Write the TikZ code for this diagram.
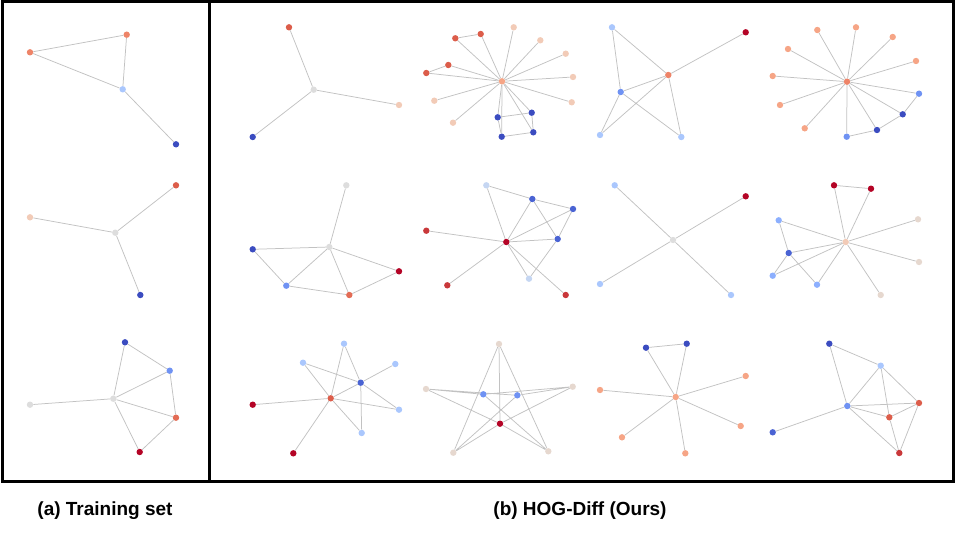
\documentclass[tikz,border=0pt]{standalone}
\usepackage{fontspec}
\setmainfont{Liberation Sans}
\pgfdeclarelayer{bg}
\pgfsetlayers{bg,main}
\definecolor{cDark}{HTML}{3B4CC0}
\definecolor{cBlueB}{HTML}{4A63D3}
\definecolor{cMid}{HTML}{6F92F3}
\definecolor{cMidB}{HTML}{8CAFFE}
\definecolor{cLight}{HTML}{AAC7FD}
\definecolor{cPale}{HTML}{C5D6F2}
\definecolor{cGrey}{HTML}{DDDDDD}
\definecolor{cPaleP}{HTML}{E6D8CF}
\definecolor{cPeach}{HTML}{F2CBB7}
\definecolor{cSalmon}{HTML}{F6A586}
\definecolor{cOrange}{HTML}{EE8468}
\definecolor{cOrangeB}{HTML}{E36C55}
\definecolor{cRedO}{HTML}{DC5D4A}
\definecolor{cRed}{HTML}{C9383A}
\definecolor{cDRed}{HTML}{B40426}
\definecolor{cEdge}{HTML}{C2C2C2}
\tikzset{
  v/.style={circle,inner sep=0pt,minimum size=6.4pt,draw=none},
  e/.style={draw=cEdge,line width=0.75pt},
  frame/.style={draw=black,line width=3pt},
  captxt/.style={font=\fontsize{19}{22}\selectfont\bfseries,anchor=base,inner sep=0pt}
}
\begin{document}
\begin{tikzpicture}[x=1pt,y=-1pt]
\useasboundingbox (0,0) rectangle (957,532);
\draw[frame] (2,1.5) rectangle (209.5,481.5);
\draw[frame] (209.5,1.5) rectangle (953.5,481.5);
% ---------- left panel
\node[v,fill=cOrange] (a1) at (30,52.3) {};
\node[v,fill=cOrange] (a2) at (126.7,34.7) {};
\node[v,fill=cLight] (a3) at (122.7,89.3) {};
\node[v,fill=cDark] (a4) at (176,144.3) {};
\node[v,fill=cRedO] (b1) at (176,185.3) {};
\node[v,fill=cPeach] (b2) at (30,217.3) {};
\node[v,fill=cGrey] (b3) at (115.3,232.7) {};
\node[v,fill=cDark] (b4) at (140.3,295) {};
\node[v,fill=cDark] (c1) at (125,342.3) {};
\node[v,fill=cMid] (c2) at (169.7,370.7) {};
\node[v,fill=cGrey] (c3) at (113.3,398.7) {};
\node[v,fill=cGrey] (c4) at (30,404.7) {};
\node[v,fill=cOrangeB] (c5) at (176,417.7) {};
\node[v,fill=cDRed] (c6) at (139.7,452) {};
% ---------- R1C1
\node[v,fill=cRedO] (d1) at (289,27.3) {};
\node[v,fill=cGrey] (d2) at (313.7,89.7) {};
\node[v,fill=cPeach] (d3) at (399,105) {};
\node[v,fill=cDark] (d4) at (252.7,137) {};
% ---------- R1C2
\node[v,fill=cSalmon] (e0) at (502,81.3) {};
\node[v,fill=cRedO] (e1) at (455.3,38.3) {};
\node[v,fill=cRedO] (e2) at (480.7,34) {};
\node[v,fill=cPeach] (e3) at (513.7,27.3) {};
\node[v,fill=cPeach] (e4) at (540.3,40.3) {};
\node[v,fill=cPeach] (e5) at (565.7,53.7) {};
\node[v,fill=cPeach] (e6) at (573,77) {};
\node[v,fill=cPeach] (e7) at (571.7,102.3) {};
\node[v,fill=cRedO] (e8) at (448.3,65) {};
\node[v,fill=cRedO] (e9) at (426.3,73) {};
\node[v,fill=cPeach] (e10) at (434.3,100.7) {};
\node[v,fill=cPeach] (e11) at (453,122.7) {};
\node[v,fill=cDark] (e12) at (497.7,117.3) {};
\node[v,fill=cDark] (e13) at (531.7,112.7) {};
\node[v,fill=cDark] (e14) at (501.7,136.7) {};
\node[v,fill=cDark] (e15) at (533.3,132.3) {};
% ---------- R1C3
\node[v,fill=cLight] (f1) at (612,27.3) {};
\node[v,fill=cDRed] (f2) at (745.7,32.3) {};
\node[v,fill=cOrange] (f3) at (668.3,75) {};
\node[v,fill=cMid] (f4) at (620.7,92) {};
\node[v,fill=cLight] (f5) at (600,135) {};
\node[v,fill=cLight] (f6) at (681.3,137) {};
% ---------- R1C4
\node[v,fill=cOrange] (g0) at (847,81.7) {};
\node[v,fill=cSalmon] (g1) at (817.3,30) {};
\node[v,fill=cSalmon] (g2) at (856,27.3) {};
\node[v,fill=cSalmon] (g3) at (892.7,37) {};
\node[v,fill=cSalmon] (g4) at (916,61) {};
\node[v,fill=cSalmon] (g5) at (788,49) {};
\node[v,fill=cSalmon] (g6) at (772.7,76) {};
\node[v,fill=cSalmon] (g7) at (780,105) {};
\node[v,fill=cSalmon] (g8) at (804.7,128.3) {};
\node[v,fill=cMid] (g9) at (919,93.7) {};
\node[v,fill=cDark] (g10) at (902.7,114.3) {};
\node[v,fill=cDark] (g11) at (877,130) {};
\node[v,fill=cMid] (g12) at (846.7,136.7) {};
% ---------- R2C1
\node[v,fill=cGrey] (h1) at (346.3,185.3) {};
\node[v,fill=cGrey] (h2) at (329.3,247) {};
\node[v,fill=cDark] (h3) at (252.7,249.3) {};
\node[v,fill=cMid] (h4) at (286.3,285.7) {};
\node[v,fill=cOrangeB] (h5) at (349.3,295) {};
\node[v,fill=cDRed] (h6) at (399,271.3) {};
% ---------- R2C2
\node[v,fill=cPale] (i1) at (486.3,185.3) {};
\node[v,fill=cBlueB] (i2) at (532.3,199) {};
\node[v,fill=cBlueB] (i3) at (573,209) {};
\node[v,fill=cRed] (i4) at (426.3,230.7) {};
\node[v,fill=cDRed] (i5) at (506.3,242) {};
\node[v,fill=cBlueB] (i6) at (557.7,239) {};
\node[v,fill=cRed] (i7) at (447.3,285.3) {};
\node[v,fill=cPale] (i8) at (529,278.7) {};
\node[v,fill=cRed] (i9) at (565.7,295) {};
% ---------- R2C3
\node[v,fill=cLight] (j1) at (614.7,185.3) {};
\node[v,fill=cDRed] (j2) at (745.7,196.3) {};
\node[v,fill=cGrey] (j3) at (673,240) {};
\node[v,fill=cLight] (j4) at (600,284) {};
\node[v,fill=cLight] (j5) at (731,295) {};
% ---------- R2C4
\node[v,fill=cDRed] (k1) at (834,185.3) {};
\node[v,fill=cDRed] (k2) at (871,188.7) {};
\node[v,fill=cMidB] (k3) at (778.7,220.3) {};
\node[v,fill=cPeach] (k4) at (845.7,242) {};
\node[v,fill=cPaleP] (k5) at (918,219.3) {};
\node[v,fill=cBlueB] (k6) at (788.7,253) {};
\node[v,fill=cPaleP] (k7) at (919,262) {};
\node[v,fill=cMidB] (k8) at (772.7,275.7) {};
\node[v,fill=cMidB] (k9) at (817,284.7) {};
\node[v,fill=cPaleP] (k10) at (880.7,295) {};
% ---------- R3C1
\node[v,fill=cLight] (l1) at (344,343.7) {};
\node[v,fill=cLight] (l2) at (303,362.7) {};
\node[v,fill=cLight] (l3) at (395.3,364) {};
\node[v,fill=cBlueB] (l4) at (360.7,382.7) {};
\node[v,fill=cRedO] (l5) at (330.7,398.3) {};
\node[v,fill=cDRed] (l6) at (252.7,404.7) {};
\node[v,fill=cLight] (l7) at (399,409.7) {};
\node[v,fill=cLight] (l8) at (361.7,433) {};
\node[v,fill=cDRed] (l9) at (293.3,453.3) {};
% ---------- R3C2
\node[v,fill=cPaleP] (m1) at (499,344) {};
\node[v,fill=cPaleP] (m2) at (426,389) {};
\node[v,fill=cPaleP] (m3) at (572.7,386.7) {};
\node[v,fill=cMid] (m4) at (483.3,394.3) {};
\node[v,fill=cMid] (m5) at (517.3,395.3) {};
\node[v,fill=cDRed] (m6) at (500,423.7) {};
\node[v,fill=cPaleP] (m7) at (453.3,452.7) {};
\node[v,fill=cPaleP] (m8) at (548.3,451.3) {};
% ---------- R3C3
\node[v,fill=cDark] (n1) at (646,347.7) {};
\node[v,fill=cDark] (n2) at (686.7,343.7) {};
\node[v,fill=cSalmon] (n3) at (745.7,376) {};
\node[v,fill=cSalmon] (n4) at (600,390) {};
\node[v,fill=cSalmon] (n5) at (675.7,397) {};
\node[v,fill=cSalmon] (n6) at (740.7,426) {};
\node[v,fill=cSalmon] (n7) at (622,437.3) {};
\node[v,fill=cSalmon] (n8) at (685.3,453.3) {};
% ---------- R3C4
\node[v,fill=cDark] (o1) at (829.3,343.7) {};
\node[v,fill=cLight] (o2) at (880.7,365.7) {};
\node[v,fill=cMid] (o3) at (847.3,406) {};
\node[v,fill=cRedO] (o4) at (919,403) {};
\node[v,fill=cRedO] (o5) at (889.3,417.3) {};
\node[v,fill=cBlueB] (o6) at (772.7,432.3) {};
\node[v,fill=cRed] (o7) at (899.3,453) {};
% ---------- edges
\begin{pgfonlayer}{bg}
\draw[e] (a1)--(a2) (a1)--(a3) (a2)--(a3) (a3)--(a4);
\draw[e] (b3)--(b1) (b3)--(b2) (b3)--(b4);
\draw[e] (c1)--(c2) (c1)--(c3) (c3)--(c2) (c3)--(c4) (c3)--(c5) (c3)--(c6) (c2)--(c5) (c5)--(c6);
\draw[e] (d2)--(d1) (d2)--(d3) (d2)--(d4);
\foreach \k in {1,...,15} {\draw[e] (e0)--(e\k);}
\draw[e] (e1)--(e2) (e8)--(e9) (e12)--(e13) (e14)--(e15) (e13)--(e15) (e12)--(e14);
\draw[e] (f1)--(f3) (f1)--(f4) (f3)--(f2) (f3)--(f4) (f3)--(f5) (f3)--(f6) (f4)--(f5) (f4)--(f6);
\foreach \k in {1,...,12} {\draw[e] (g0)--(g\k);}
\draw[e] (g9)--(g10) (g10)--(g11) (g11)--(g12);
\draw[e] (h1)--(h2) (h2)--(h3) (h3)--(h4) (h4)--(h2) (h4)--(h5) (h2)--(h5) (h2)--(h6) (h5)--(h6);
\draw[e] (i1)--(i2) (i2)--(i3) (i1)--(i5) (i2)--(i5) (i2)--(i6) (i3)--(i5) (i3)--(i6) (i5)--(i6) (i4)--(i5) (i5)--(i7) (i5)--(i8) (i5)--(i9) (i6)--(i8);
\foreach \k in {1,2,4,5} {\draw[e] (j3)--(j\k);}
\draw[e] (k1)--(k2) (k1)--(k4) (k2)--(k4) (k3)--(k4) (k3)--(k6) (k4)--(k5) (k4)--(k6) (k4)--(k7) (k4)--(k8) (k4)--(k9) (k4)--(k10) (k6)--(k8) (k6)--(k9);
\draw[e] (l1)--(l4) (l1)--(l5) (l2)--(l4) (l2)--(l5) (l3)--(l4) (l4)--(l5) (l4)--(l7) (l4)--(l8) (l5)--(l6) (l5)--(l7) (l5)--(l8) (l5)--(l9);
\draw[e] (m1)--(m7) (m1)--(m8) (m1)--(m6) (m2)--(m4) (m2)--(m5) (m4)--(m3) (m5)--(m3) (m2)--(m6) (m6)--(m8) (m3)--(m6) (m6)--(m7) (m4)--(m8) (m5)--(m7);
\draw[e] (n1)--(n2) (n1)--(n5) (n2)--(n5) (n5)--(n3) (n5)--(n4) (n5)--(n6) (n5)--(n7) (n5)--(n8);
\draw[e] (o1)--(o2) (o1)--(o3) (o2)--(o3) (o2)--(o4) (o2)--(o5) (o3)--(o4) (o3)--(o5) (o3)--(o6) (o3)--(o7) (o4)--(o5) (o4)--(o7) (o5)--(o7);
\end{pgfonlayer}
% ---------- captions
\node[captxt] (capa) at (105,515) {(a) Training set};
\node[captxt] (capb) at (580,515) {(b) HOG-Diff (Ours)};
\end{tikzpicture}
\end{document}
